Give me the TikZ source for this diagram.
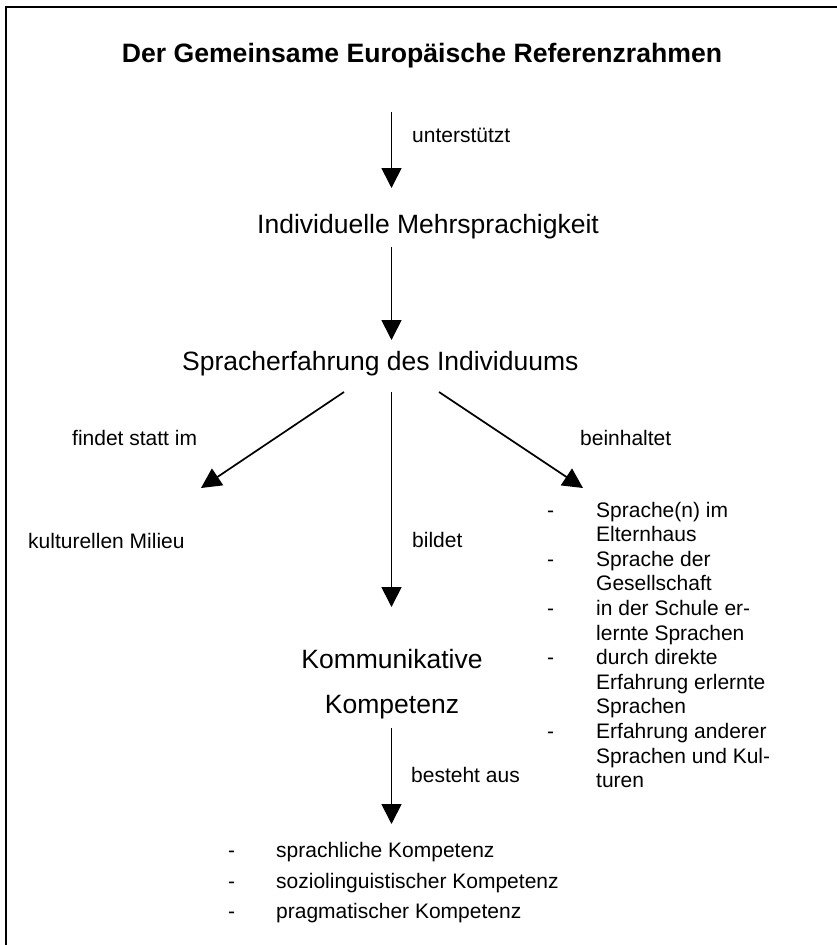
\documentclass[tikz,border=0pt]{standalone}
\usepackage{fontspec}
\setmainfont{Liberation Sans}
\usetikzlibrary{arrows.meta,calc}
\tikzset{
  lbl/.style={inner sep=0pt, anchor=base west, font=\fontsize{21}{24.6}\selectfont},
  big/.style={inner sep=0pt, anchor=base west, font=\fontsize{26.5}{30}\selectfont},
  arr/.style={line width=1.7pt, -{Triangle[length=20pt,width=20pt]}},
  frame/.style={line width=2pt}
}
\begin{document}
\begin{tikzpicture}[x=1pt,y=-1pt]
\useasboundingbox (0,0) rectangle (837,945);
\draw[frame] (837,7) -- (6,7) -- (6,945);
\coordinate (ax) at (391.5,0);
\node[inner sep=0pt, anchor=base, font=\fontsize{26.6}{30}\selectfont\bfseries] (title) at (422,62) {Der Gemeinsame Europäische Referenzrahmen};
\node[lbl] (unter) at (412,142) {unterstützt};
\node[big] (indiv) at (257,233) {Individuelle Mehrsprachigkeit};
\node[big] (sprach) at (182,370) {Spracherfahrung des Individuums};
\node[lbl] (findet) at (72,445) {findet statt im};
\node[lbl] (beinh) at (580,445) {beinhaltet};
\node[lbl] (kultur) at (28,548) {kulturellen Milieu};
\node[lbl] (bildet) at (412,547) {bildet};
\node[lbl] (rlist) at (547,517) {\begin{tabular}[t]{@{}p{49pt}@{}l@{}}
-&Sprache(n) im\\ &Elternhaus\\ -&Sprache der\\ &Gesellschaft\\
-&in der Schule er-\\ &lernte Sprachen\\ -&durch direkte\\ &Erfahrung erlernte\\
&Sprachen\\ -&Erfahrung anderer\\ &Sprachen und Kul-\\ &turen\end{tabular}};
\node[big, anchor=base] (kommu) at (392,668) {Kommunikative};
\node[big, anchor=base] (kompe) at (392,713) {Kompetenz};
\node[lbl] (besteht) at (411,782) {besteht aus};
\node[lbl] (d1) at (228,857) {-};
\node[lbl] (b1) at (276,857) {sprachliche Kompetenz};
\node[lbl] (d2) at (228,888) {-};
\node[lbl] (b2) at (276,888) {soziolinguistischer Kompetenz};
\node[lbl] (d3) at (228,918) {-};
\node[lbl] (b3) at (276,918) {pragmatischer Kompetenz};
\draw[arr, shorten <=50pt, shorten >=45pt] (title.base -| ax) -- (indiv.base -| ax);
\draw[arr, shorten <=14pt, shorten >=30pt] (indiv.base -| ax) -- (sprach.base -| ax);
\draw[arr, shorten <=22pt, shorten >=61pt] (sprach.base -| ax) -- (kommu.base -| ax);
\draw[arr, shorten <=15pt, shorten >=33pt] (kompe.base -| ax) -- (b1.base -| ax);
\draw[arr] ($(sprach.base west)+(162,22)$) -- ($(kultur.base west)+(173,-60)$);
\draw[arr] ($(sprach.base west)+(257,22)$) -- ($(rlist.base west)+(36,-29)$);
\end{tikzpicture}
\end{document}
